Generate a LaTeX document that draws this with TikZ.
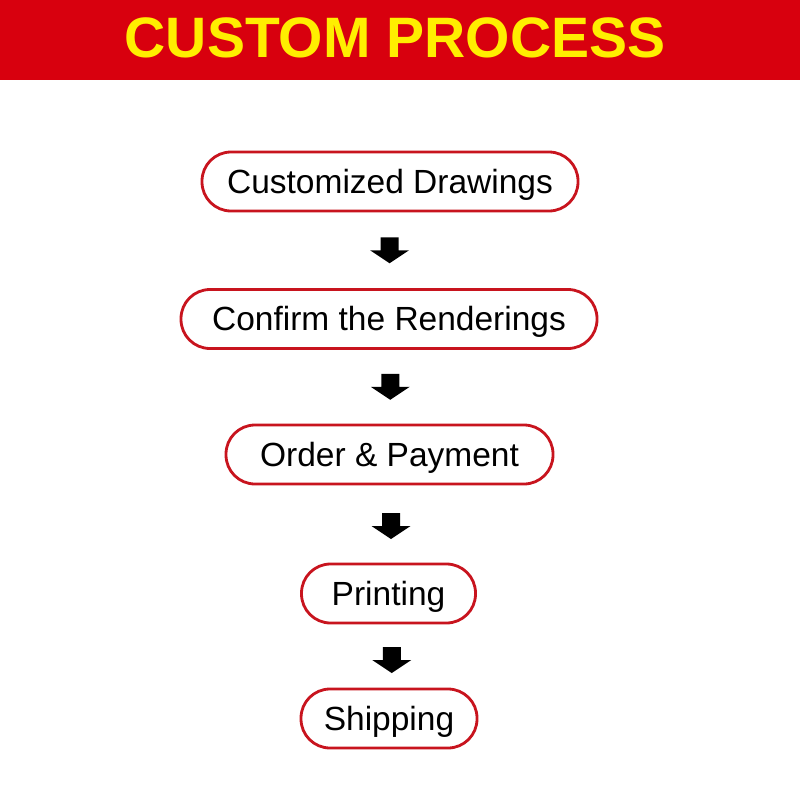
\documentclass[tikz,border=0pt]{standalone}
\usepackage{fontspec}
\setmainfont{Liberation Sans}
\usetikzlibrary{calc}
\definecolor{bandred}{HTML}{D8000E}
\definecolor{titleyellow}{HTML}{FFEE00}
\definecolor{boxred}{HTML}{C8141E}
\tikzset{
  stepbox/.style={draw=boxred, line width=2.8pt, rounded corners=29pt, fill=white,
    minimum height=59pt, inner sep=0pt, text height=23.5pt, text depth=0pt,
    font=\fontsize{33.5}{35}\selectfont, text=black},
  pics/downarrow/.style={code={
    \fill[black] (-9,-13) -- (9,-13) -- (9,0) -- (19.5,0) -- (0,13) -- (-19.5,0) -- (-9,0) -- cycle;
  }}
}
\begin{document}
\begin{tikzpicture}[x=1pt,y=-1pt]
\useasboundingbox (0,0) rectangle (800,800);
\fill[white] (0,0) rectangle (800,800);
\fill[bandred] (0,0) rectangle (800,80);
\node[text=titleyellow, font=\bfseries\fontsize{57}{60}\selectfont, inner sep=0pt, text height=41pt, text depth=0pt] (title) at (395,37.5) {CUSTOM PROCESS};

\node[stepbox, minimum width=376pt] (s1) at (390,181.5) {Customized Drawings};
\node[stepbox, minimum width=416pt] (s2) at (389,319) {Confirm the Renderings};
\node[stepbox, minimum width=327pt] (s3) at (389.5,454.5) {Order \& Payment};
\node[stepbox, minimum width=174pt] (s4) at (388.5,593.5) {Printing};
\node[stepbox, minimum width=176pt] (s5) at (389,718.5) {Shipping};

\pic at ($(s1.south)!0.5!(s2.north)$) {downarrow};
\pic at ($(s2.south)!0.5!(s3.north)+(1,0)$) {downarrow};
\pic at ($(s3.south)!0.5!(s4.north)+(2,2)$) {downarrow};
\pic at ($(s4.south)!0.5!(s5.north)+(3,4)$) {downarrow};
\end{tikzpicture}
\end{document}
